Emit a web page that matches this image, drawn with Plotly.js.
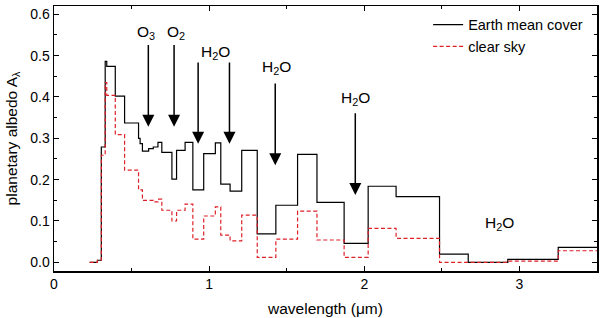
<!DOCTYPE html>
<html>
<head>
<meta charset="utf-8">
<script src="https://cdn.plot.ly/plotly-3.0.1.min.js"></script>
<style>html,body{margin:0;padding:0;background:#fff;}#chart{width:600px;height:318px;}</style>
</head>
<body>
<div id="chart"></div>
<script>
// bin start wavelengths (µm); last value is the end of the final bin
const wavelength = [0.23, 0.28, 0.305, 0.33, 0.34, 0.395, 0.455, 0.545, 0.555, 0.57, 0.61, 0.64, 0.67, 0.695, 0.76, 0.79, 0.845, 0.895, 0.965, 1.04, 1.075, 1.135, 1.21, 1.31, 1.43, 1.57, 1.695, 1.87, 2.025, 2.205, 2.485, 2.67, 2.925, 3.25, 3.5];
const earthMeanCover = [0.0, 0.005, 0.279, 0.486, 0.474, 0.402, 0.337, 0.300, 0.287, 0.269, 0.275, 0.279, 0.290, 0.266, 0.201, 0.271, 0.290, 0.175, 0.263, 0.289, 0.189, 0.172, 0.271, 0.069, 0.138, 0.261, 0.145, 0.046, 0.184, 0.159, 0.020, 0.0, 0.007, 0.036, 0.036];
const clearSky = [0.0, 0.005, 0.259, 0.435, 0.404, 0.309, 0.223, 0.175, 0.175, 0.150, 0.150, 0.146, 0.153, 0.126, 0.100, 0.126, 0.141, 0.056, 0.112, 0.134, 0.066, 0.052, 0.114, 0.012, 0.056, 0.124, 0.054, 0.012, 0.082, 0.058, 0.0, 0.0, 0.003, 0.028, 0.028];

// absorption-band arrows: x position, tail y, tip y
const arrowX = [0.608, 0.774, 0.929, 1.131, 1.426, 1.942];
const arrowTail = [0.529, 0.529, 0.487, 0.487, 0.436, 0.364];
const arrowTip = [0.328, 0.328, 0.287, 0.287, 0.235, 0.163];

const labelText = ['O<sub>3</sub>', 'O<sub>2</sub>', 'H<sub>2</sub>O', 'H<sub>2</sub>O', 'H<sub>2</sub>O', 'H<sub>2</sub>O'];
const labelX = [0.595, 0.785, 1.039, 1.432, 1.942, 2.871];
const labelY = [0.557, 0.557, 0.507, 0.472, 0.396, 0.094];

const font = '"Liberation Sans", Arial, Helvetica, sans-serif';

const traces = [
  {x: wavelength, y: earthMeanCover, type: 'scatter', mode: 'lines', name: 'Earth mean cover',
   line: {shape: 'hv', color: '#000000', width: 1.2}},
  {x: wavelength, y: clearSky, type: 'scatter', mode: 'lines', name: 'clear sky',
   line: {shape: 'hv', color: 'rgb(222,32,40)', width: 1.2, dash: '4px,2.5px'}}
];

const annotations = [];
arrowX.forEach((x, i) => {
  annotations.push({x: x, y: arrowTip[i], ax: x, ay: arrowTail[i], axref: 'x', ayref: 'y', xref: 'x', yref: 'y',
    text: '', showarrow: true, arrowhead: 2, arrowsize: 1.6, arrowwidth: 1.5, arrowcolor: '#000'});
});
labelText.forEach((t, i) => {
  annotations.push({x: labelX[i], y: labelY[i], xref: 'x', yref: 'y', text: t, showarrow: false,
    font: {family: font, size: 15.5, color: '#000'}});
});

const axisCommon = {
  showline: true, linecolor: '#000', linewidth: 1.5, mirror: 'allticks',
  ticks: 'inside', ticklen: 5, tickwidth: 1, tickcolor: '#000',
  showgrid: false, zeroline: false,
  tickfont: {family: font, size: 14, color: '#000'}
};

const layout = {
  width: 600, height: 318,
  margin: {l: 54, r: 3, t: 6, b: 47},
  paper_bgcolor: '#fff', plot_bgcolor: '#fff',
  showlegend: true,
  legend: {x: 0.689, y: 0.99, xanchor: 'left', yanchor: 'top', bgcolor: 'rgba(0,0,0,0)',
    font: {family: font, size: 14.5, color: '#000'}, tracegroupgap: 0},
  xaxis: Object.assign({}, axisCommon, {
    range: [0, 3.5], dtick: 1, tick0: 0,
    minor: {dtick: 0.5, ticks: 'inside', ticklen: 3, tickcolor: '#000', showgrid: false},
    title: {text: 'wavelength (\u03bcm)', font: {family: font, size: 15.5, color: '#000'}, standoff: 12}
  }),
  yaxis: Object.assign({}, axisCommon, {
    range: [-0.021, 0.62], dtick: 0.1, tick0: 0, tickformat: '.1f',
    minor: {dtick: 0.05, ticks: 'inside', ticklen: 3, tickcolor: '#000', showgrid: false},
    title: {text: 'planetary albedo A<sub>\u03bb</sub>', font: {family: font, size: 15.5, color: '#000'}, standoff: 9}
  }),
  annotations: annotations
};

Plotly.newPlot('chart', traces, layout, {displayModeBar: false, staticPlot: true});
</script>
</body>
</html>
